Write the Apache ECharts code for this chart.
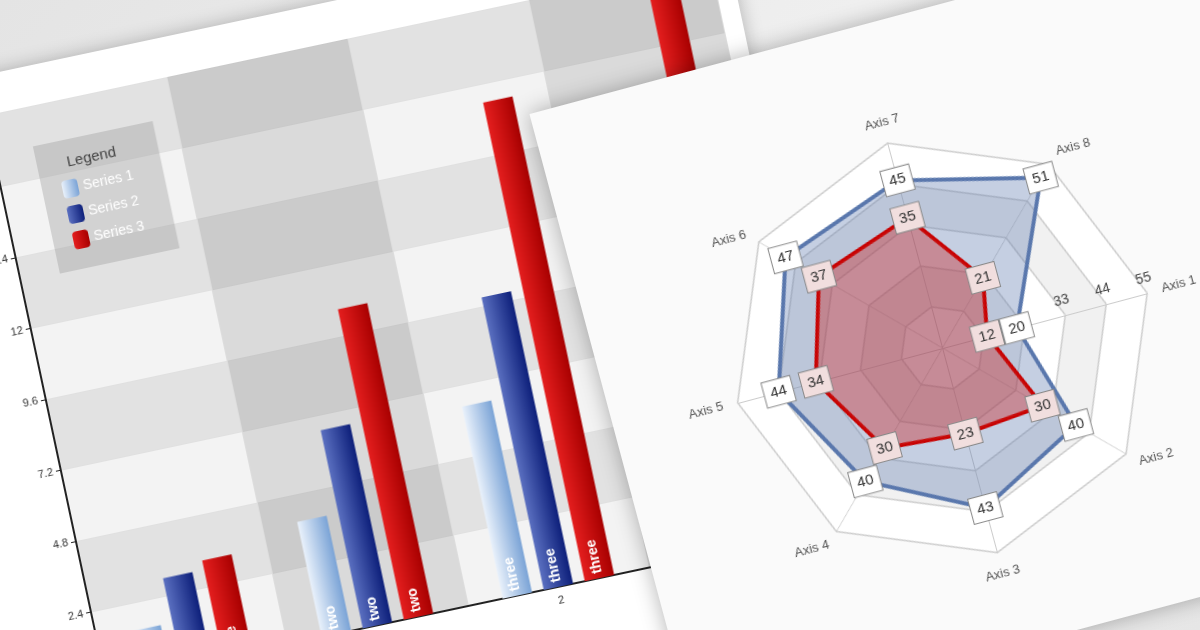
<!DOCTYPE html>
<html><head><meta charset="utf-8">
<script src="https://cdn.jsdelivr.net/npm/echarts@6/dist/echarts.min.js"></script>
<style>
html,body{margin:0;width:1200px;height:630px;overflow:hidden;background:linear-gradient(135deg,#e4e4e4,#f2f2f2 60%,#e6e6e6);font-family:"Open Sans",sans-serif}
#bar{position:absolute;left:-150px;top:10px;width:960px;height:760px;background:#fff;transform:rotate(-12deg);transform-origin:50% 50%;box-shadow:0 0 18px rgba(0,0,0,.25)}
#radar{position:absolute;left:600px;top:10px;width:720px;height:640px;background:#fafafa;transform:rotate(-15deg);transform-origin:50% 50%;box-shadow:0 0 20px rgba(0,0,0,.3)}
</style></head><body>
<div id="bar"></div><div id="radar"></div>
<script>
const barCategories = ['0','1','2','3'];
const series1 = [1.5, 3.9, 6.5, 9.0];
const series2 = [3.0, 6.7, 9.9, 13.0];
const series3 = [3.3, 10.5, 16.2, 22.0];
const barLabels = ['one','two','three','four'];
const yTicks = {min:0, max:19.2, interval:2.4};

const radarAxes = ['Axis 1','Axis 2','Axis 3','Axis 4','Axis 5','Axis 6','Axis 7','Axis 8'];
const radarBlue = [20,40,43,40,44,47,45,51];
const radarRed = [12,30,23,30,34,37,35,21];
const radarMax = 55;

function grad(c1,c2){return new echarts.graphic.LinearGradient(0,0,1,0,[{offset:0,color:c1},{offset:1,color:c2}]);}
const bar = echarts.init(document.getElementById('bar'));
function bs(name,data,c1,c2){return {name,type:'bar',data,barWidth:30,barGap:'40%',
 itemStyle:{color:grad(c1,c2)},
 label:{show:true,position:'insideBottom',rotate:90,align:'left',verticalAlign:'middle',color:'#fff',fontWeight:'bold',fontSize:14,
 formatter:p=>barLabels[p.dataIndex]}};}
bar.setOption({
 animation:false,
 grid:{left:200,right:20,top:40,bottom:140},
 title:{text:'Legend',left:265,top:90,textStyle:{fontSize:15,fontWeight:'normal',color:'#444'}},
 legend:{orient:'vertical',left:240,top:80,padding:[40,30,20,20],backgroundColor:'rgba(150,150,150,0.35)',itemWidth:16,itemHeight:18,textStyle:{color:'#fff',fontSize:14}},
 xAxis:{type:'category',data:barCategories,axisLine:{lineStyle:{color:'#222',width:2}},axisTick:{show:false},
  axisLabel:{color:'#333',fontSize:11},splitLine:{show:true,lineStyle:{color:'#ddd'}},splitArea:{show:true,areaStyle:{color:['rgba(0,0,0,0.0)','rgba(0,0,0,0.1)']}}},
 yAxis:{type:'value',...yTicks,axisLine:{show:true,lineStyle:{color:'#222',width:2}},axisTick:{show:true},
  axisLabel:{color:'#333',fontSize:11},splitLine:{lineStyle:{color:'#e0e0e0'}},splitArea:{show:true,areaStyle:{color:['#f3f3f3','#e2e2e2']}}},
 series:[bs('Series 1',series1,'#e9f1fb','#7aa3d6'),bs('Series 2',series2,'#5a6fc0','#0d1f7a'),bs('Series 3',series3,'#e41e1e','#a80000')]
});

const radar = echarts.init(document.getElementById('radar'));
const order=[0,7,6,5,4,3,2,1];
const lab=(bg)=>({show:true,color:'#333',fontSize:15,backgroundColor:bg,borderColor:'#888',borderWidth:1,padding:[5,6],position:'inside'});
radar.setOption({
 animation:false,
 radar:{center:['47%','52%'],radius:212,startAngle:0,splitNumber:5,shape:'polygon',
  indicator:order.map((i,k)=>({name:radarAxes[i],max:radarMax,min:0,axisLabel:k===0?{show:true,color:'#444',fontSize:14,formatter:v=>v<33?'':v}:{show:false}})),
  axisName:{color:'#555',fontSize:13},
  splitLine:{lineStyle:{color:'#ccc',width:1.5}},
  splitArea:{areaStyle:{color:['#fff','#f1f1f1','#fff','#f1f1f1','#fff']}},
  axisLine:{lineStyle:{color:'#ccc'}}},
 series:[
  {type:'radar',symbol:'rect',symbolSize:1,label:lab('#fff'),
   data:[{value:order.map(i=>radarBlue[i]),lineStyle:{color:'#5a78ad',width:4},areaStyle:{color:'rgba(90,120,173,0.5)'}}]},
  {type:'radar',symbol:'rect',symbolSize:1,label:lab('#f1dede'),
   data:[{value:order.map(i=>radarRed[i]),lineStyle:{color:'#c80000',width:4},areaStyle:{color:'rgba(200,30,30,0.55)'}}]}]
});
</script></body></html>
